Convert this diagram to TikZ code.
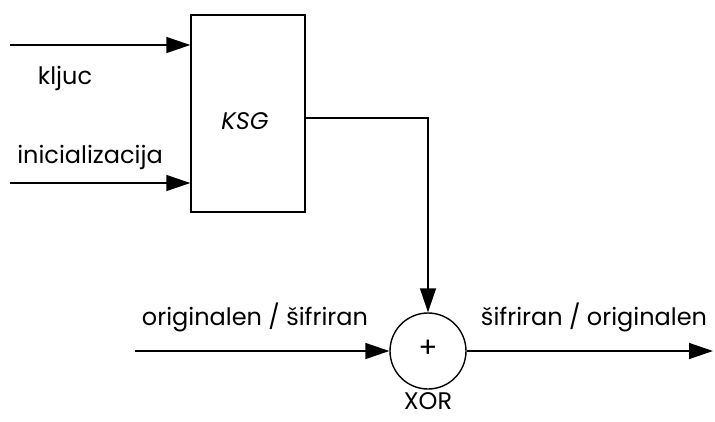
\documentclass[tikz,border=0pt]{standalone}
\usepackage{fontspec}
\setmainfont{Poppins}
\usetikzlibrary{arrows.meta}

\begin{document}
\begin{tikzpicture}[x=1pt, y=-1pt, line width=1.4pt,
  arr/.style={-{Triangle[length=24pt,width=16pt]}},
  lbl/.style={font=\fontsize{24}{28}\selectfont}]
  \useasboundingbox (0,0) rectangle (715,421);
  \node[draw, minimum width=114pt, minimum height=197pt, inner sep=0pt] (ksg) at (248,113.5) {};
  \node[lbl] at (245,121) {\itshape KSG};
  \node[draw, circle, minimum size=76pt, inner sep=0pt] (xor) at (428,351) {};
  \node[lbl, font=\fontsize{28}{30}\selectfont] at (428,349) {+};
  \node[lbl] at (428,401) {XOR};
  \coordinate (k) at (10,45);
  \coordinate (i) at (10,183);
  \coordinate (o) at (135,351);
  \coordinate (out) at (713,351);
  \draw[arr] (k) -- (k -| ksg.west);
  \draw[arr] (i) -- (i -| ksg.west);
  \draw[arr] (ksg.east |- 0,118) -| (xor.north);
  \draw[arr] (o) -- (xor.west);
  \draw[arr] (xor.east) -- (out);
  \node[lbl] at (65,78) {kljuc};
  \node[lbl] at (90,157) {inicializacija};
  \node[lbl] at (255,317) {originalen / šifriran};
  \node[lbl] at (594,317) {šifriran / originalen};
\end{tikzpicture}
\end{document}
